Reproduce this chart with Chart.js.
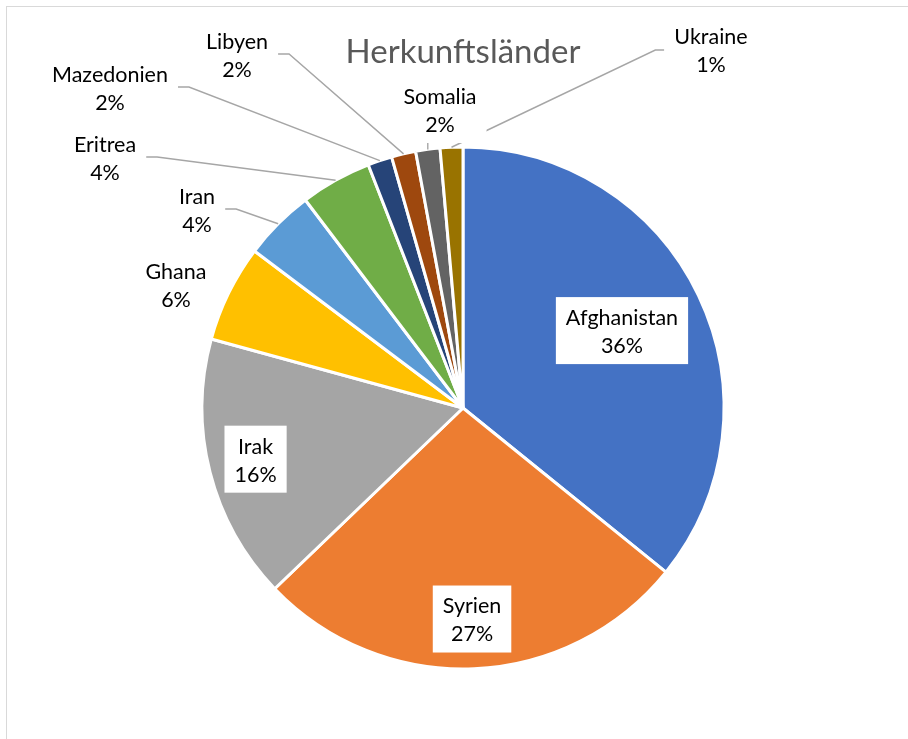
<!DOCTYPE html>
<html>
<head>
<meta charset="utf-8">
<title>Herkunftsländer</title>
<script src="https://cdn.jsdelivr.net/npm/chart.js@4.4.0/dist/chart.umd.min.js"></script>
<style>
  html, body { margin: 0; padding: 0; background: #fff; overflow: hidden; }
  #wrap { position: relative; width: 908px; height: 739px; overflow: hidden; }
  #frame { position: absolute; left: 6px; top: 6px; width: 1000px; height: 1000px;
           border-top: 1px solid #d9d9d9; border-left: 1px solid #d9d9d9; }
  #wrap canvas { position: absolute; left: 0; top: 0; }
</style>
</head>
<body>
<div id="wrap">
  <div id="frame"></div>
  <canvas id="pie" width="908" height="739"></canvas>
</div>
<script>
// data (slice shares in percent)
const countries = ['Afghanistan', 'Syrien', 'Irak', 'Ghana', 'Iran', 'Eritrea', 'Mazedonien', 'Libyen', 'Somalia', 'Ukraine'];
const shares = [35.75, 26.95, 16.4, 6.0, 4.4, 4.4, 1.5, 1.5, 1.5, 1.4];
const sliceColors = ['#4472C4', '#ED7D31', '#A5A5A5', '#FFC000', '#5B9BD5', '#70AD47', '#264478', '#9E480E', '#636363', '#997300'];

// where the labels sit
// inside ones: fraction of the radius along the slice middle
const insideAt = { Afghanistan: 0.675, Syrien: 0.815, Irak: 0.82 };
// outside ones: fixed spot + which side the leader line leaves from
const outsideAt = {
  Ghana:      { x: 176, y: 286, lead: null },
  Iran:       { x: 197, y: 211, lead: 'right' },
  Eritrea:    { x: 105, y: 159, lead: 'right' },
  Mazedonien: { x: 110, y: 89,  lead: 'right' },
  Libyen:     { x: 237, y: 56,  lead: 'right' },
  Somalia:    { x: 440, y: 111, lead: 'below' },
  Ukraine:    { x: 711, y: 51,  lead: 'left' }
};

const labelFont = '21.5px Lato, "Open Sans", sans-serif';

const pieLabels = {
  id: 'pieLabels',
  afterDatasetsDraw(chart) {
    const ctx = chart.ctx;
    const arcs = chart.getDatasetMeta(0).data;
    const total = shares.reduce((a, b) => a + b, 0);
    ctx.save();
    ctx.font = labelFont;
    let boxes = [];
    arcs.forEach((arc, i) => {
      const p = arc.getProps(['x', 'y', 'startAngle', 'endAngle', 'outerRadius'], true);
      const mid = (p.startAngle + p.endAngle) / 2;
      const name = countries[i];
      const lines = [name, Math.round(shares[i] / total * 100) + '%'];
      const w = Math.max(ctx.measureText(lines[0]).width, ctx.measureText(lines[1]).width);
      let cx, cy, fill = false, spot = outsideAt[name];
      if (insideAt[name]) {
        cx = p.x + Math.cos(mid) * p.outerRadius * insideAt[name];
        cy = p.y + Math.sin(mid) * p.outerRadius * insideAt[name];
        fill = true;
      } else {
        cx = spot.x; cy = spot.y;
      }
      const box = { l: cx - w / 2 - 10, r: cx + w / 2 + 10, t: cy - 35, b: cy + 32, cx, cy, lines, fill };
      boxes.push(box);
      // leader line
      if (spot && spot.lead) {
        const ex = p.x + Math.cos(mid) * p.outerRadius;
        const ey = p.y + Math.sin(mid) * p.outerRadius;
        ctx.strokeStyle = '#a6a6a6';
        ctx.lineWidth = 1.4;
        ctx.beginPath();
        if (spot.lead === 'right') {
          ctx.moveTo(box.r, cy - 2);
          ctx.lineTo(box.r + 11, cy - 2);
          ctx.lineTo(ex, ey);
        } else if (spot.lead === 'left') {
          ctx.moveTo(box.l, cy - 1);
          ctx.lineTo(box.l - 9, cy - 1);
          ctx.lineTo(ex, ey);
        } else {
          ctx.moveTo(ex, box.b);
          ctx.lineTo(ex, ey);
        }
        ctx.stroke();
      }
    });
    // boxes go over the leader lines, like in the original
    boxes.forEach(b => {
      ctx.fillStyle = '#fff';
      ctx.fillRect(b.l, b.t, b.r - b.l, b.b - b.t);
    });
    ctx.fillStyle = '#000';
    ctx.textAlign = 'center';
    ctx.textBaseline = 'middle';
    boxes.forEach(b => {
      ctx.fillText(b.lines[0], b.cx, b.cy - 14);
      ctx.fillText(b.lines[1], b.cx, b.cy + 14);
    });
    ctx.restore();
  }
};

new Chart(document.getElementById('pie'), {
  type: 'pie',
  data: {
    labels: countries,
    datasets: [{
      data: shares,
      backgroundColor: sliceColors,
      borderColor: '#fff',
      borderWidth: 3,
      hoverOffset: 0
    }]
  },
  options: {
    responsive: false,
    animation: false,
    radius: 261,
    layout: { padding: { left: 203, right: 185, top: 0, bottom: 71 } },
    plugins: {
      legend: { display: false },
      tooltip: { enabled: false },
      title: {
        display: true,
        text: 'Herkunftsländer',
        color: '#595959',
        font: { family: 'Lato, "Open Sans", sans-serif', size: 33, weight: 'normal', lineHeight: 1.2 },
        padding: { top: 33, bottom: 75.4 }
      }
    }
  },
  plugins: [pieLabels]
});
</script>
</body>
</html>
